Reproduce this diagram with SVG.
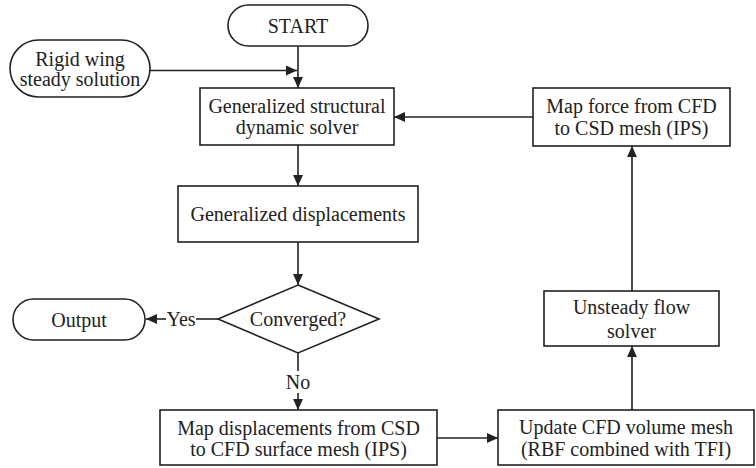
<svg xmlns="http://www.w3.org/2000/svg" width="756" height="468" viewBox="0 0 756 468">
<style>
.n{fill:#fff;stroke:#222;stroke-width:1.6}
.t{font-family:"Liberation Serif","Times New Roman",serif;font-size:20px;fill:#222;text-anchor:middle;dominant-baseline:central}
.c{fill:none;stroke:#222;stroke-width:1.6}
</style>
<defs>
<marker id="a" viewBox="0 0 10 10" refX="10" refY="5" markerWidth="11" markerHeight="11" markerUnits="userSpaceOnUse" orient="auto">
<path d="M0,0.5L10,5L0,9.5z" fill="#222"/>
</marker>
</defs>
<rect width="756" height="468" fill="#fff"/>
<g id="connectors">
<line class="c" x1="298" y1="46" x2="298" y2="88" marker-end="url(#a)"/>
<line class="c" x1="150" y1="70.5" x2="297" y2="70.5" marker-end="url(#a)"/>
<line class="c" x1="298" y1="145" x2="298" y2="186" marker-end="url(#a)"/>
<line class="c" x1="298" y1="242" x2="298" y2="285" marker-end="url(#a)"/>
<line class="c" x1="218" y1="319" x2="196" y2="319"/>
<line class="c" x1="166" y1="319" x2="146" y2="319" marker-end="url(#a)"/>
<line class="c" x1="298" y1="353" x2="298" y2="371"/>
<line class="c" x1="298" y1="393" x2="298" y2="410" marker-end="url(#a)"/>
<line class="c" x1="437" y1="438" x2="498" y2="438" marker-end="url(#a)"/>
<line class="c" x1="632" y1="410" x2="632" y2="346" marker-end="url(#a)"/>
<line class="c" x1="632" y1="291" x2="632" y2="146" marker-end="url(#a)"/>
<line class="c" x1="533" y1="117" x2="394" y2="117" marker-end="url(#a)"/>
<text class="t" x="181" y="319">Yes</text>
<text class="t" x="298" y="382">No</text>
</g>
<g id="start">
<rect class="n" x="228" y="5" width="140" height="41" rx="20.5"/>
<text class="t" x="298" y="25.5">START</text>
</g>
<g id="rigid">
<rect class="n" x="10" y="40" width="140" height="57" rx="28.5"/>
<text class="t" x="80" y="59">Rigid wing</text>
<text class="t" x="80" y="79">steady solution</text>
</g>
<g id="solver">
<rect class="n" x="200" y="88" width="194" height="57"/>
<text class="t" x="297" y="106">Generalized structural</text>
<text class="t" x="297" y="127">dynamic solver</text>
</g>
<g id="mapforce">
<rect class="n" x="533" y="88" width="197" height="58"/>
<text class="t" x="631.5" y="106">Map force from CFD</text>
<text class="t" x="631.5" y="128">to CSD mesh (IPS)</text>
</g>
<g id="gendisp">
<rect class="n" x="178" y="186" width="240" height="56"/>
<text class="t" x="298" y="214">Generalized displacements</text>
</g>
<g id="converged">
<polygon class="n" points="298,285 379,319 298,353 218,319"/>
<text class="t" x="298" y="319">Converged?</text>
</g>
<g id="output">
<rect class="n" x="13" y="299" width="132" height="41" rx="20.5"/>
<text class="t" x="79" y="319.5">Output</text>
</g>
<g id="unsteady">
<rect class="n" x="544" y="291" width="175" height="55"/>
<text class="t" x="631.5" y="307">Unsteady flow</text>
<text class="t" x="631.5" y="331">solver</text>
</g>
<g id="mapdisp">
<rect class="n" x="160" y="410" width="277" height="55"/>
<text class="t" x="298.5" y="428">Map displacements from CSD</text>
<text class="t" x="298.5" y="449">to CFD surface mesh (IPS)</text>
</g>
<g id="update">
<rect class="n" x="498" y="410" width="256" height="55"/>
<text class="t" x="626" y="427">Update CFD volume mesh</text>
<text class="t" x="626" y="449">(RBF combined with TFI)</text>
</g>
</svg>
